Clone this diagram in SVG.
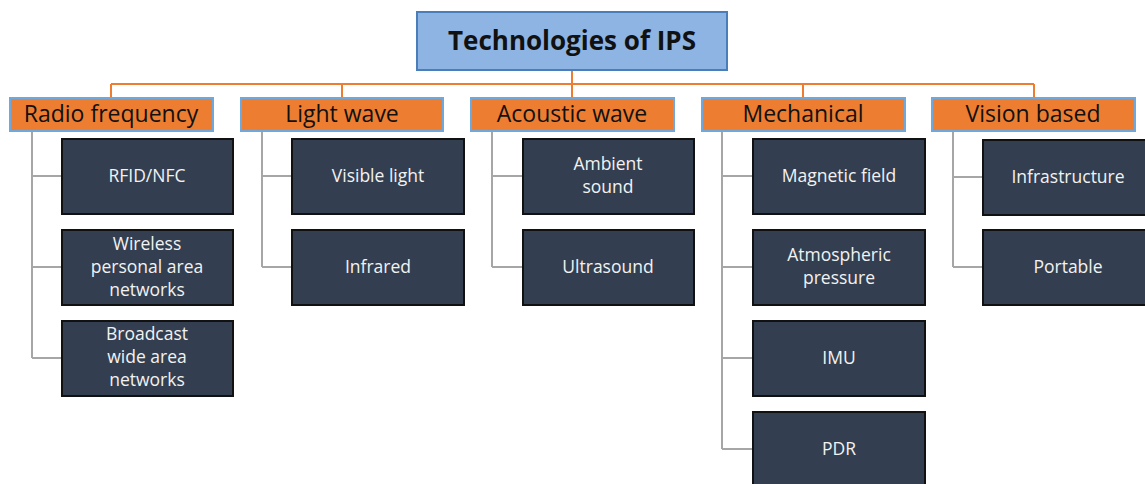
<svg xmlns="http://www.w3.org/2000/svg" width="1145" height="484" viewBox="0 0 1145 484">
<style>
.root{fill:#8db4e2;stroke:#4a7ebb;stroke-width:2}
.cat{fill:#ed7d31;stroke:#6fa8dc;stroke-width:2}
.leaf{fill:#333f50;stroke:#111;stroke-width:2}
.tr{font-family:"Open Sans","Liberation Sans",sans-serif;font-size:26px;font-weight:bold;fill:#111;text-anchor:middle}
.tc{font-family:"Open Sans","Liberation Sans",sans-serif;font-size:23px;fill:#111;text-anchor:middle}
.tl{font-family:"Open Sans","Liberation Sans",sans-serif;font-size:17.5px;fill:#f2f2f2;text-anchor:middle}
.oc{stroke:#ed7d31;stroke-width:2;fill:none}
.gc{stroke:#a6a6a6;stroke-width:2;fill:none}
</style>
<rect width="1145" height="484" fill="#fff"/>
<g id="connectors">
<path class="oc" d="M572 70V84M111 84H1034M111 84V98M342 84V98M572 84V98M803 84V98M1034 84V98"/>
<path class="gc" d="M32 131V358M32 176H62M32 267H62M32 358H62"/>
<path class="gc" d="M262 131V267M262 176H292M262 267H292"/>
<path class="gc" d="M492 131V267M492 176H523M492 267H523"/>
<path class="gc" d="M722 131V449M722 176H753M722 267H753M722 358H753M722 449H753"/>
<path class="gc" d="M953 131V267M953 177H983M953 267H983"/>
</g>
<g id="root"><rect class="root" x="417" y="12" width="310" height="58"/><text class="tr" x="572" y="50">Technologies of IPS</text></g>
<g id="cat-rf"><rect class="cat" x="10" y="98" width="203" height="33"/><text class="tc" x="111" y="122">Radio frequency</text></g>
<g id="cat-light"><rect class="cat" x="241" y="98" width="202" height="33"/><text class="tc" x="342" y="122">Light wave</text></g>
<g id="cat-acoustic"><rect class="cat" x="471" y="98" width="203" height="33"/><text class="tc" x="572" y="122">Acoustic wave</text></g>
<g id="cat-mech"><rect class="cat" x="702" y="98" width="203" height="33"/><text class="tc" x="803" y="122">Mechanical</text></g>
<g id="cat-vision"><rect class="cat" x="932" y="98" width="203" height="33"/><text class="tc" x="1033" y="122">Vision based</text></g>
<g id="rfid"><rect class="leaf" x="62" y="139" width="171" height="75"/><text class="tl" x="147" y="182">RFID/NFC</text></g>
<g id="wpan"><rect class="leaf" x="62" y="230" width="171" height="75"/><text class="tl" x="147" y="250">Wireless</text><text class="tl" x="147" y="273">personal area</text><text class="tl" x="147" y="296">networks</text></g>
<g id="bwan"><rect class="leaf" x="62" y="321" width="171" height="75"/><text class="tl" x="147" y="340">Broadcast</text><text class="tl" x="147" y="363">wide area</text><text class="tl" x="147" y="386">networks</text></g>
<g id="visible"><rect class="leaf" x="292" y="139" width="172" height="75"/><text class="tl" x="378" y="182">Visible light</text></g>
<g id="infrared"><rect class="leaf" x="292" y="230" width="172" height="75"/><text class="tl" x="378" y="273">Infrared</text></g>
<g id="ambient"><rect class="leaf" x="523" y="139" width="171" height="75"/><text class="tl" x="608" y="170">Ambient</text><text class="tl" x="608" y="193">sound</text></g>
<g id="ultrasound"><rect class="leaf" x="523" y="230" width="171" height="75"/><text class="tl" x="608" y="273">Ultrasound</text></g>
<g id="magnetic"><rect class="leaf" x="753" y="139" width="172" height="75"/><text class="tl" x="839" y="182">Magnetic field</text></g>
<g id="atmos"><rect class="leaf" x="753" y="230" width="172" height="75"/><text class="tl" x="839" y="261">Atmospheric</text><text class="tl" x="839" y="284">pressure</text></g>
<g id="imu"><rect class="leaf" x="753" y="321" width="172" height="75"/><text class="tl" x="839" y="364">IMU</text></g>
<g id="pdr"><rect class="leaf" x="753" y="412" width="172" height="75"/><text class="tl" x="839" y="455">PDR</text></g>
<g id="infra"><rect class="leaf" x="983" y="140" width="171" height="75"/><text class="tl" x="1068" y="183">Infrastructure</text></g>
<g id="portable"><rect class="leaf" x="983" y="230" width="171" height="75"/><text class="tl" x="1068" y="273">Portable</text></g>
</svg>
